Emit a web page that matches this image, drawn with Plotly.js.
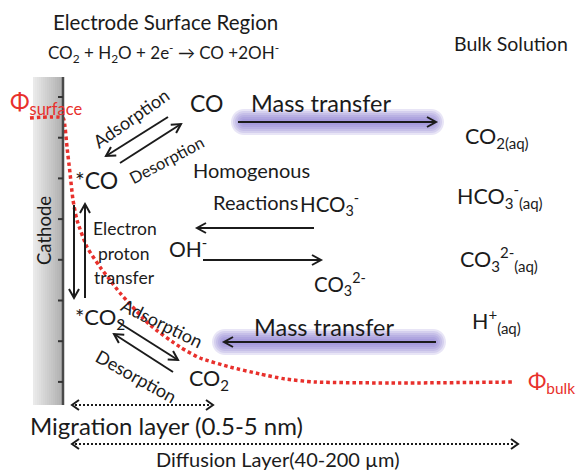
<!DOCTYPE html>
<html>
<head>
<meta charset="utf-8">
<script src="https://cdn.plot.ly/plotly-3.0.1.min.js"></script>
<style>html,body{margin:0;padding:0;background:#fff;}#chart{width:577px;height:473px;}</style>
</head>
<body>
<div id="chart"></div>
<script>
// Potential profile (dotted red curve)
const curveX = [30, 63, 65, 67, 70, 73, 77, 87, 100, 110, 120, 150, 180, 200, 230, 260, 285, 315, 400, 515];
const curveY = [118, 118, 127, 147, 173, 200, 220, 247, 267, 280, 293, 325, 347, 358, 367, 374, 379, 382, 383, 382];

// Text content
const titleTexts = ["Electrode Surface Region", "CO<sub>2</sub> + H<sub>2</sub>O + 2e<sup>-</sup> \u2192 CO +2OH<sup>-</sup>", "Bulk Solution"];
const bulkSpecies = ["CO<sub>2(aq)</sub>", "HCO<sub>3</sub><sup>-</sup><sub>(aq)</sub>", "CO<sub>3</sub><sup>2-</sup><sub>(aq)</sub>", "H<sup>+</sup><sub>(aq)</sub>"];
const surfaceSpecies = ["CO", "*CO", "*CO<sub>2</sub>", "CO<sub>2</sub>"];
const reactionSpecies = ["HCO<sub>3</sub><sup>-</sup>", "OH<sup>-</sup>", "CO<sub>3</sub><sup>2-</sup>"];
const processLabels = ["Mass transfer", "Adsorption", "Desorption", "Homogenous", "Reactions", "Electron", "proton", "transfer"];
const layerLabels = ["Migration layer (0.5-5 nm)", "Diffusion Layer(40-200 \u00b5m)", "Cathode"];
const potentialLabels = ["\u03a6<sub>surface</sub>", "\u03a6<sub>bulk</sub>"];

const FONT = "Lato, 'Open Sans', sans-serif";
const INK = "#1b1b1b";
const RED = "#e8302c";

const shapes = [];
const annotations = [];

function txt(text, x, y, size, opts) {
  opts = opts || {};
  annotations.push(Object.assign({
    text: text, x: x, y: y, xref: 'x', yref: 'y', showarrow: false,
    xanchor: 'center', yanchor: 'middle',
    font: {family: FONT, size: size, color: opts.color || INK}
  }, opts.extra || {}));
}

function head(x1, y1, x2, y2, L, W, color, width) {
  const dx = x2 - x1, dy = y2 - y1, len = Math.hypot(dx, dy);
  const ux = dx / len, uy = dy / len, nx = -uy, ny = ux;
  const bx = x2 - L * ux, by = y2 - L * uy;
  shapes.push({type: 'path', xref: 'x', yref: 'y',
    path: `M${bx + W * nx},${by + W * ny} L${x2},${y2} L${bx - W * nx},${by - W * ny}`,
    line: {color: color, width: width}});
}

function arrow(x1, y1, x2, y2, opts) {
  opts = opts || {};
  const color = opts.color || INK, width = opts.width || 2;
  shapes.push({type: 'line', xref: 'x', yref: 'y', x0: x1, y0: y1, x1: x2, y1: y2,
    line: {color: color, width: width}});
  head(x1, y1, x2, y2, opts.L || 9, opts.W || 5, color, width);
}

function dottedDouble(x1, x2, y) {
  shapes.push({type: 'line', xref: 'x', yref: 'y', x0: x1 + 3, y0: y, x1: x2 - 3, y1: y,
    line: {color: INK, width: 2, dash: '2px,2px'}});
  head(x2, y, x1, y, 7, 5, INK, 2);
  head(x1, y, x2, y, 7, 5, INK, 2);
}

function capsule(x1, x2, yc, r) {
  const k = 0.5523;
  return `M${x1},${yc - r} L${x2},${yc - r} C${x2 + k * r},${yc - r} ${x2 + r},${yc - k * r} ${x2 + r},${yc} ` +
    `C${x2 + r},${yc + k * r} ${x2 + k * r},${yc + r} ${x2},${yc + r} L${x1},${yc + r} ` +
    `C${x1 - k * r},${yc + r} ${x1 - r},${yc + k * r} ${x1 - r},${yc} C${x1 - r},${yc - k * r} ${x1 - k * r},${yc - r} ${x1},${yc - r} Z`;
}

function glow(x1, x2, yc) {
  const radii = [13, 11, 9, 7, 5, 3];
  radii.forEach(r => {
    shapes.push({type: 'path', xref: 'x', yref: 'y', path: capsule(x1, x2, yc, r),
      fillcolor: 'rgba(135,115,205,0.19)', line: {width: 0}, layer: 'below'});
  });
}

// Cathode block with gradient
const cx0 = 33, cx1 = 63, cTop = 77, cBot = 405;
const nStripes = 15;
for (let i = 0; i < nStripes; i++) {
  const t = i / (nStripes - 1);
  const g = Math.round(234 - t * 58);
  shapes.push({type: 'rect', xref: 'x', yref: 'y',
    x0: cx0 + i * (cx1 - cx0) / nStripes, x1: cx0 + (i + 1) * (cx1 - cx0) / nStripes + 0.5,
    y0: cTop, y1: cBot, fillcolor: `rgb(${g},${g},${g})`, line: {width: 0}, layer: 'below'});
}
shapes.push({type: 'line', xref: 'x', yref: 'y', x0: cx1, y0: cTop, x1: cx1, y1: cBot,
  line: {color: '#4a4a4a', width: 2.5}});
for (let k = 0; k < 8; k++) {
  const ty = 97 + k * 40.7;
  shapes.push({type: 'line', xref: 'x', yref: 'y', x0: cx1 - 5, y0: ty, x1: cx1, y1: ty,
    line: {color: '#333', width: 2}});
}

// Glows and mass-transfer arrows
glow(244, 431, 122);
glow(225, 433, 342);
arrow(238, 122, 436, 122);
arrow(436, 342, 224, 342);

// Adsorption / desorption arrows near CO
arrow(168, 117, 106, 156);
arrow(120, 163, 181, 124);
// Electron proton transfer arrows
arrow(74, 205, 74, 298);
arrow(85, 298, 85, 204);
// CO2 adsorption / desorption arrows
arrow(118, 322, 178, 360);
arrow(173, 372, 114, 334);
// Homogenous reaction arrows
arrow(314, 228, 197, 228);
arrow(203, 260, 321, 260);

// Layer arrows
dottedDouble(72, 213, 405);
dottedDouble(72, 518, 444);

// Texts
txt(titleTexts[0], 165, 22, 20.5);
txt(titleTexts[1], 163, 53, 17);
txt(titleTexts[2], 511, 43, 19.5);

txt(potentialLabels[0], 46, 103, 23.5, {color: RED});
txt(potentialLabels[1], 577, 382, 22, {color: RED, extra: {xanchor: 'right'}});

txt(surfaceSpecies[0], 206, 103, 23);
txt(surfaceSpecies[1], 96, 180, 23);
txt(surfaceSpecies[2], 100, 318, 22);
txt(surfaceSpecies[3], 209, 379, 21.5);

txt(processLabels[0], 321, 103, 23.5);
txt(processLabels[0], 324, 327, 23.5);
txt(processLabels[1], 131, 118, 18, {extra: {textangle: -35}});
txt(processLabels[2], 167, 160, 16.5, {extra: {textangle: -28}});
txt(processLabels[1], 162, 323, 18, {extra: {textangle: 26}});
txt(processLabels[2], 136, 376, 18, {extra: {textangle: 29}});
txt(processLabels[3], 251, 170, 20);
txt(processLabels[4], 255, 202, 20);
txt(processLabels[5], 125, 228, 17.5);
txt(processLabels[6], 124, 253, 17.5);
txt(processLabels[7], 124, 277, 17.5);

txt(reactionSpecies[0], 329, 204, 20.5);
txt(reactionSpecies[1], 188, 247, 21);
txt(reactionSpecies[2], 340, 284, 20.5);

txt(bulkSpecies[0], 497, 137, 21.5);
txt(bulkSpecies[1], 500, 196, 21.5);
txt(bulkSpecies[2], 499, 259, 21.5);
txt(bulkSpecies[3], 496, 321, 21.5);

txt(layerLabels[0], 166, 425, 24);
txt(layerLabels[1], 278, 473, 20, {extra: {yanchor: 'bottom'}});
txt(layerLabels[2], 44, 231, 18.5, {extra: {textangle: -90}});

const trace = {
  x: curveX, y: curveY, type: 'scatter', mode: 'lines', hoverinfo: 'skip',
  line: {color: RED, width: 3.5, dash: '3.5px,3px', shape: 'spline', smoothing: 0.6}
};

const layout = {
  width: 577, height: 473,
  margin: {l: 0, r: 0, t: 0, b: 0, pad: 0},
  paper_bgcolor: '#fff', plot_bgcolor: '#fff',
  showlegend: false,
  xaxis: {range: [0, 577], visible: false, fixedrange: true},
  yaxis: {range: [473, 0], visible: false, fixedrange: true},
  shapes: shapes, annotations: annotations
};

Plotly.newPlot('chart', [trace], layout, {displayModeBar: false, staticPlot: true});
</script>
</body>
</html>
